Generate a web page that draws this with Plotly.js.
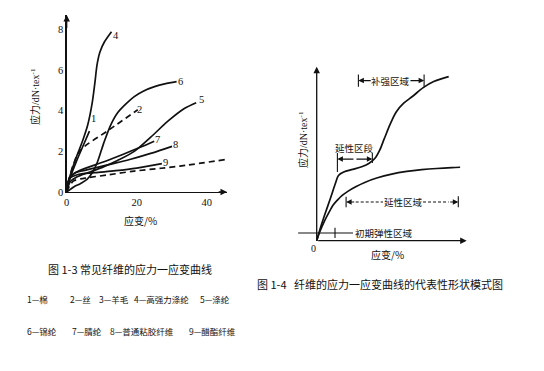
<!DOCTYPE html>
<html><head><meta charset="utf-8">
<script src="https://cdn.plot.ly/plotly-3.0.1.min.js"></script>
<style>html,body{margin:0;padding:0;background:#fff}#chart{width:544px;height:371px}</style>
</head><body><div id="chart"></div>
<script>
// ---------- Figure 1-3: common fibres (strain %, stress dN/tex) ----------
const fiberIds   = ["1","2","3","4","5","6","7","8","9"];
const fiberNames = ["棉","丝","羊毛","高强力涤纶","涤纶","锦纶","腈纶","普通粘胶纤维","醋酯纤维"];
const c1x = [0,1.2,3,5,6.5];                 const c1y = [0,0.8,1.6,2.4,3.0];
const c2x = [0,0.8,2,3.9,12,20.3];           const c2y = [0,0.7,1.4,2.05,3.05,4.05];
const c3x = [0,1,2,4,5.8,12,19.3,27,33.8,45.4]; const c3y = [0,0.35,0.55,0.65,0.7,0.85,1.03,1.17,1.31,1.6];
const c4x = [0,0.8,2.5,4.5,6,7.2,8,8.7,9.5,10.8,12.8]; const c4y = [0,0.7,1.6,2.5,3.3,4.3,5.3,6.3,6.9,7.4,7.9];
const c5x = [0,1,3,6,10,14.5,19.3,24,29,33.5,37]; const c5y = [0,0.5,0.75,0.95,1.2,1.55,2.0,2.7,3.5,4.1,4.4];
const c6x = [0,2,4,5.8,7.3,8.7,10.6,12.6,14.5,17,19.3,22,25.1,28,31.4];
const c6y = [0,0.25,0.42,0.62,0.95,1.44,2.42,3.31,3.89,4.35,4.7,4.98,5.19,5.33,5.44];
const c7x = [0,0.8,2,4,10,16,21,25];         const c7y = [0,0.65,0.9,1.08,1.45,1.85,2.2,2.5];
const c8x = [0,0.8,2.5,6,12,18,24,30.1];     const c8y = [0,0.7,0.95,1.1,1.35,1.6,1.9,2.25];
const c9x = [0,0.8,3,8,14,20,27.2];          const c9y = [0,0.65,0.85,0.95,1.05,1.18,1.4];
const dashedIds = ["2","3"];
// curve-number label positions (data units)
const labelX = [7.7,20.8,46.4,14.0,38.4,32.4,25.8,31.1,28.2];
const labelY = [3.64,4.05,1.6,7.72,4.54,5.44,2.58,2.33,1.44];
const leftXTicks = [0,20,40];
const leftYTicks = [0,2,4,6,8];

// ---------- Figure 1-4: representative curve shapes (schematic units) ----------
const upX = [0,2,5,9,12.5,14.5,18,24,30,35,39,42,45,49,53,58,64,71,78,84,88];
const upY = [0,6,14,24,33,37.5,39.5,41,42.5,44.5,47.5,52,58.5,67,74,79,83,88,91.5,93.3,94.3];
const loX = [0,2,5,8,11,14,17,21,26,32,40,50,60,70,80,90,95.6];
const loY = [0,5,11,16,20.5,23.5,26,28.5,31,33.5,36,38.3,39.8,40.8,41.5,42,42.2];
const regionLabels = ["补强区域","延性区段","延性区域","初期弹性区域"];

const caption13 = "图 1-3 常见纤维的应力一应变曲线";
const caption14 = "图 1-4\u00a0\u00a0 纤维的应力一应变曲线的代表性形状模式图";

// ---------- build ----------
const W = 544, H = 371;
const px = v => v / W, py = v => 1 - v / H;
const INK = "#111";
const cjk = "Noto Sans CJK SC, sans-serif";
const serif = "Liberation Serif, Noto Sans CJK SC, serif";

const curves = [[c1x,c1y],[c2x,c2y],[c3x,c3y],[c4x,c4y],[c5x,c5y],[c6x,c6y],[c7x,c7y],[c8x,c8y],[c9x,c9y]];
const traces = curves.map((c, i) => ({
  x: c[0], y: c[1], type: "scatter", mode: "lines", xaxis: "x", yaxis: "y",
  line: {color: INK, width: 1.7, shape: "spline", smoothing: 0.9,
         dash: dashedIds.includes(fiberIds[i]) ? "6px,4px" : "solid"},
  hoverinfo: "skip", showlegend: false
}));
traces.push({x: upX, y: upY, type: "scatter", mode: "lines", xaxis: "x2", yaxis: "y2",
  line: {color: INK, width: 1.7, shape: "spline", smoothing: 0.9}, hoverinfo: "skip", showlegend: false});
traces.push({x: loX, y: loY, type: "scatter", mode: "lines", xaxis: "x2", yaxis: "y2",
  line: {color: INK, width: 1.7, shape: "spline", smoothing: 0.9}, hoverinfo: "skip", showlegend: false});

const ann = [];
const txt = (x, y, t, size, fam, extra) => ann.push(Object.assign({
  x: x, y: y, xref: "paper", yref: "paper", text: t, showarrow: false,
  font: {size: size, family: fam, color: INK}, xanchor: "center", yanchor: "middle"}, extra || {}));
// curve number labels
fiberIds.forEach((id, i) => ann.push({x: labelX[i], y: labelY[i], xref: "x", yref: "y", text: id,
  showarrow: false, font: {size: 10.5, family: serif, color: INK}}));
// arrow helper (data coords)
const arrow = (xr, yr, x0, y0, x1, y1, w) => ann.push({xref: xr, yref: yr, axref: xr, ayref: yr,
  x: x1, y: y1, ax: x0, ay: y0, text: "", showarrow: true, arrowhead: 2, arrowsize: 1,
  arrowwidth: w || 1.2, arrowcolor: INK});
// left axes arrowheads
arrow("x", "y", 43, 0, 45.8, 0, 1.3);
arrow("x", "y", 0, 8.0, 0, 8.72, 1.3);
// left titles
txt(px(35), py(97), "应力/dN·tex<sup>-1</sup>", 10, serif, {textangle: -90});
txt(px(140), py(220), "应变/%", 10, cjk);
// right axes
arrow("x2", "y2", 0, -1, 0, 100, 1.3);
arrow("x2", "y2", 0, 0, 100, 0, 1.3);
txt(px(313), py(248), "0", 10, serif);
txt(px(303), py(140), "应力/dN·tex<sup>-1</sup>", 10, serif, {textangle: -90});
txt(px(387), py(254), "应变/%", 10, cjk);
// region annotations
const rtxt = (x, y, t) => ann.push({x: x, y: y, xref: "x2", yref: "y2", text: t, showarrow: false,
  font: {size: 9.5, family: cjk, color: INK}, bgcolor: "rgba(0,0,0,0)"});
rtxt(49.5, 92, regionLabels[0]);
arrow("x2", "y2", 37, 92, 27.8, 92, 1.1);
arrow("x2", "y2", 61.5, 92, 71.6, 92, 1.1);
rtxt(25.5, 53, regionLabels[1]);
arrow("x2", "y2", 25.5, 46.9, 13.8, 46.9, 1.1);
arrow("x2", "y2", 25.5, 46.9, 37.1, 46.9, 1.1);
rtxt(57.8, 22.3, regionLabels[2]);
arrow("x2", "y2", 26, 22.2, 19.6, 22.2, 1.1);
arrow("x2", "y2", 88, 22.2, 94.4, 22.2, 1.1);
rtxt(45, 4.4, regionLabels[3]);
// captions & legend
txt(px(130), py(269), caption13, 11, cjk);
txt(px(380), py(284), caption14, 11, cjk);
const legRow1X = [25,68,97,132,198], legRow2X = [25,70,108,187];
fiberIds.forEach((id, i) => {
  const row = i < 5 ? 0 : 1;
  const xx = row === 0 ? legRow1X[i] : legRow2X[i - 5];
  txt(px(xx), py(row === 0 ? 299 : 331), id + "—" + fiberNames[i], 8.5, cjk, {xanchor: "left"});
});

const L = (xr, yr, x0, y0, x1, y1, dash) => ({type: "line", xref: xr, yref: yr, x0: x0, y0: y0, x1: x1, y1: y1,
  line: {color: INK, width: 1.1, dash: dash || "solid"}});
const shapes = [
  L("x2","y2",27.8,88.5,27.8,95.5), L("x2","y2",71.6,88.5,71.6,95.5),
  L("x2","y2",13.8,39.5,13.8,50.4), L("x2","y2",37.1,44.6,37.1,50.4),
  L("x2","y2",19.6,19.2,19.6,25.2), L("x2","y2",94.4,19.2,94.4,25.5),
  L("x2","y2",26,22.2,44.2,22.2,"3px,2px"), L("x2","y2",70.9,22.2,88,22.2,"3px,2px"),
  L("x2","y2",-12.4,4.4,24.2,4.4), L("x2","y2",12.2,1.6,12.2,7.4)
];

const layout = {
  width: W, height: H, margin: {l: 0, r: 0, t: 0, b: 0},
  paper_bgcolor: "#fff", plot_bgcolor: "rgba(0,0,0,0)", showlegend: false,
  xaxis: {domain: [66.7/W, 227/W], range: [0, 45.8], tickvals: leftXTicks, ticks: "",
    showline: true, linecolor: INK, linewidth: 1.3, showgrid: false, zeroline: false,
    tickfont: {size: 10.5, family: serif, color: INK}, fixedrange: true, anchor: "y"},
  yaxis: {domain: [1 - 192/H, 1 - 15/H], range: [0, 8.72], tickvals: leftYTicks, ticks: "",
    showline: true, linecolor: INK, linewidth: 1.3, showgrid: false, zeroline: false,
    tickfont: {size: 10.5, family: serif, color: INK}, fixedrange: true, anchor: "x"},
  xaxis2: {domain: [294.2/W, 466.7/W], range: [-15, 100], visible: false, fixedrange: true, anchor: "y2"},
  yaxis2: {domain: [1 - 249.4/H, 1 - 66.7/H], range: [-5, 100], visible: false, fixedrange: true, anchor: "x2"},
  annotations: ann, shapes: shapes
};
Plotly.newPlot("chart", traces, layout, {staticPlot: true, displayModeBar: false});
</script></body></html>
